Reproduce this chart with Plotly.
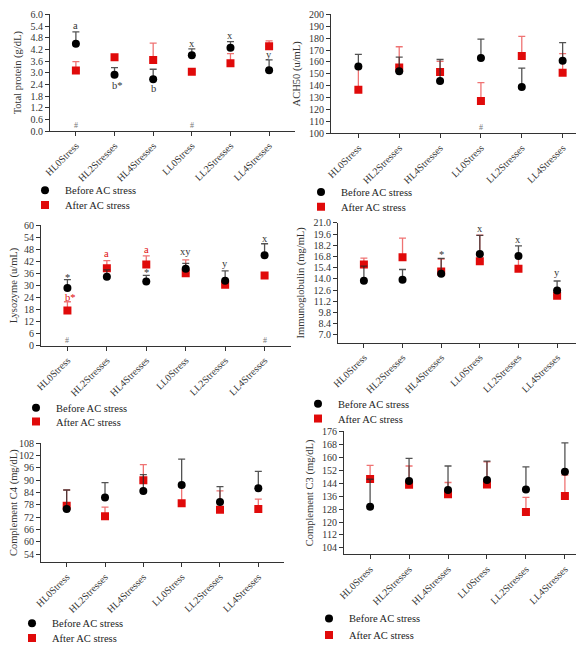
import plotly.graph_objects as go

W, H = 584, 645

categories = ["HL0Stress", "HL2Stresses", "HL4Stresses", "LL0Stress", "LL2Stresses", "LL4Stresses"]

tp_before = [4.49, 2.89, 2.67, 3.90, 4.28, 3.13]
tp_before_err = [0.61, 0.37, 0.51, 0.33, 0.32, 0.53]
tp_after = [3.11, 3.79, 3.66, 3.05, 3.49, 4.36]
tp_after_err = [0.46, 0.05, 0.86, 0.05, 0.49, 0.28]

ach_before = [156.2, 152.2, 144.1, 163.4, 139.0, 161.0]
ach_before_err = [10.2, 11.8, 18.0, 15.9, 15.8, 15.3]
ach_after = [136.6, 155.4, 151.6, 127.2, 165.0, 151.0]
ach_after_err = [18.0, 17.4, 8.9, 15.5, 16.5, 16.0]

lys_before = [28.8, 34.3, 32.0, 38.3, 32.4, 45.1]
lys_before_err = [4.1, 3.5, 3.0, 2.7, 4.9, 5.7]
lys_after = [17.5, 38.6, 40.5, 36.1, 30.4, 35.0]
lys_after_err = [4.4, 3.8, 4.3, 6.7, 0.5, 0.5]

ig_before = [13.77, 13.9, 14.64, 17.1, 16.85, 12.54]
ig_before_err = [1.81, 1.27, 1.92, 2.34, 1.27, 1.19]
ig_after = [15.78, 16.69, 14.92, 16.2, 15.25, 11.89]
ig_after_err = [0.82, 2.41, 1.56, 3.28, 1.75, 0.1]

c4_before = [75.9, 81.6, 84.7, 87.6, 79.4, 86.1]
c4_before_err = [9.3, 7.2, 8.0, 12.6, 7.4, 8.2]
c4_after = [77.5, 72.4, 90.0, 78.8, 75.6, 76.0]
c4_after_err = [7.7, 4.5, 7.6, 8.0, 9.2, 4.8]

c3_before = [129.5, 145.4, 139.7, 146.0, 140.1, 151.1]
c3_before_err = [16.9, 13.9, 14.9, 11.6, 13.9, 17.8]
c3_after = [146.6, 143.0, 137.2, 143.2, 126.2, 136.0]
c3_after_err = [8.4, 11.6, 7.2, 14.0, 9.0, 13.0]

titles = ["Total protein (g/dL)", "ACH50 (u/mL)", "Lysozyme (u/mL)",
          "Immunoglobulin (mg/mL)", "Complement C4 (mg/dL)", "Complement C3 (mg/dL)"]

FONT = "Liberation Serif"
RED = "#e00a0a"

panels = [
    dict(b=tp_before, be=tp_before_err, a=tp_after, ae=tp_after_err,
         px=(42, 287), py=(6.5, 125), yr=(0, 6.0001), t0=0, dt=0.6, fmt=".1f",
         leg=(48, 185, 200), standoff=6),
    dict(b=ach_before, be=ach_before_err, a=ach_after, ae=ach_after_err,
         px=(323, 582), py=(6.5, 127.3), yr=(100, 200.01), t0=100, dt=10, fmt="d",
         leg=(324, 187, 202), standoff=6),
    dict(b=lys_before, be=lys_before_err, a=lys_after, ae=lys_after_err,
         px=(33, 283), py=(220.7, 343), yr=(0, 60.01), t0=0, dt=6, fmt="d",
         leg=(39, 406, 420), standoff=6),
    dict(b=ig_before, be=ig_before_err, a=ig_after, ae=ig_after_err,
         px=(330, 575), py=(218.3, 340), yr=(6.0, 21.001), t0=7.0, dt=1.4, fmt=".1f",
         leg=(321, 402, 417), standoff=6),
    dict(b=c4_before, be=c4_before_err, a=c4_after, ae=c4_after_err,
         px=(33, 276), py=(442, 563), yr=(50, 108.01), t0=54, dt=6, fmt="d",
         leg=(35, 625, 640), standoff=6),
    dict(b=c3_before, be=c3_before_err, a=c3_after, ae=c3_after_err,
         px=(336, 583), py=(430, 555), yr=(100, 176.01), t0=104, dt=8, fmt="d",
         leg=(332, 620, 637), standoff=6),
]

fig = go.Figure()
layout = {}
for i, p in enumerate(panels):
    k = i + 1
    xa = "x" if k == 1 else f"x{k}"
    ya = "y" if k == 1 else f"y{k}"
    lb = "legend" if k == 1 else f"legend{2*k-1}"
    la = f"legend{2*k}"
    # after (red) first, before (black) on top
    fig.add_trace(go.Scatter(
        x=categories, y=p["a"], mode="markers", name="After AC stress",
        marker=dict(symbol="square", size=8, color=RED),
        error_y=dict(type="data", symmetric=False, array=p["ae"], arrayminus=[0]*6,
                     color="rgba(230,40,40,0.65)", thickness=1.3, width=3.5),
        xaxis=xa, yaxis=ya, legend=la))
    fig.add_trace(go.Scatter(
        x=categories, y=p["b"], mode="markers", name="Before AC stress",
        marker=dict(symbol="circle", size=8, color="black"),
        error_y=dict(type="data", symmetric=False, array=p["be"], arrayminus=[0]*6,
                     color="rgba(40,40,40,0.8)", thickness=1.3, width=3.5),
        xaxis=xa, yaxis=ya, legend=lb))
    x0, x1 = p["px"]
    y0, y1 = p["py"]
    n = int(round((p["yr"][1] - p["t0"]) / p["dt"])) + 1
    tv = [round(p["t0"] + j * p["dt"], 4) for j in range(n)]
    tt = [format(v, ".1f") if p["fmt"] == ".1f" else str(int(round(v))) for v in tv]
    layout["xaxis" if k == 1 else f"xaxis{k}"] = dict(
        domain=[x0 / W, x1 / W], anchor=ya, range=[-0.67, 5.67],
        showline=True, linecolor="#333", linewidth=1, ticks="outside", ticklen=4,
        tickcolor="#333", tickangle=-45, showgrid=False, zeroline=False,
        tickfont=dict(family=FONT, size=10, color="#333"), automargin=False)
    layout["yaxis" if k == 1 else f"yaxis{k}"] = dict(
        domain=[1 - y1 / H, 1 - y0 / H], anchor=xa, range=list(p["yr"]),
        tickvals=tv, ticktext=tt, ticklabeloverflow="allow",
        showline=True, linecolor="#333", linewidth=1, ticks="outside", ticklen=4,
        tickcolor="#333", showgrid=False, zeroline=False,
        tickfont=dict(family=FONT, size=10, color="#333"),
        title=dict(text=titles[i], font=dict(family=FONT, size=10.5, color="#333"),
                   standoff=p["standoff"]), automargin=False)
    mx, yb, yaf = p["leg"]
    for name, yy in ((lb, yb), (la, yaf)):
        layout[name] = dict(x=(mx - 31) / W, y=1 - yy / H, xanchor="left", yanchor="middle",
                            bgcolor="rgba(0,0,0,0)", borderwidth=0,
                            font=dict(family=FONT, size=10.5, color="#222"),
                            itemwidth=30)

# significance annotations: (panel, category index, y, text, color, yshift)
marks = [
    (1, 0, 5.34, "a", "#333", 2), (1, 1, 2.43, "b*", "#333", -2), (1, 2, 2.28, "b", "#333", -2),
    (1, 3, 4.39, "x", "#333", 2), (1, 4, 4.80, "x", "#333", 2), (1, 5, 3.82, "y", "#333", 2),
    (1, 0, 0.3, "#", "#777", 0), (1, 3, 0.3, "#", "#777", 0),
    (2, 3, 104.6, "#", "#777", 0),
    (3, 0, 33.8, "*", "#333", 0), (3, 0, 23.9, "b*", RED, 0), (3, 1, 44.8, "a", RED, 2),
    (3, 2, 46.9, "a", RED, 2), (3, 2, 36.6, "*", "#333", 0), (3, 3, 45.9, "xy", "#333", 2),
    (3, 4, 39.9, "y", "#333", 2), (3, 5, 52.6, "x", "#333", 2),
    (3, 0, 2.6, "#", "#777", 0), (3, 5, 2.6, "#", "#777", 0),
    (4, 2, 17.0, "*", "#333", 0), (4, 3, 20.0, "x", "#333", 2), (4, 4, 18.7, "x", "#333", 2),
    (4, 5, 14.5, "y", "#333", 2),
]
anns = []
for k, ci, yv, txt, col, ys in marks:
    anns.append(dict(x=categories[ci], y=yv, xref="x" if k == 1 else f"x{k}",
                     yref="y" if k == 1 else f"y{k}", text=txt, showarrow=False,
                     xshift=3 if txt == "b*" else 0, yshift=ys,
                     font=dict(family=FONT, size=10.5 if txt != "#" else 8, color=col)))

fig.update_layout(**layout)
fig.update_layout(width=W, height=H, margin=dict(l=0, r=0, t=0, b=0),
                  paper_bgcolor="white", plot_bgcolor="white",
                  showlegend=True, annotations=anns)
fig.write_html("out.html")
